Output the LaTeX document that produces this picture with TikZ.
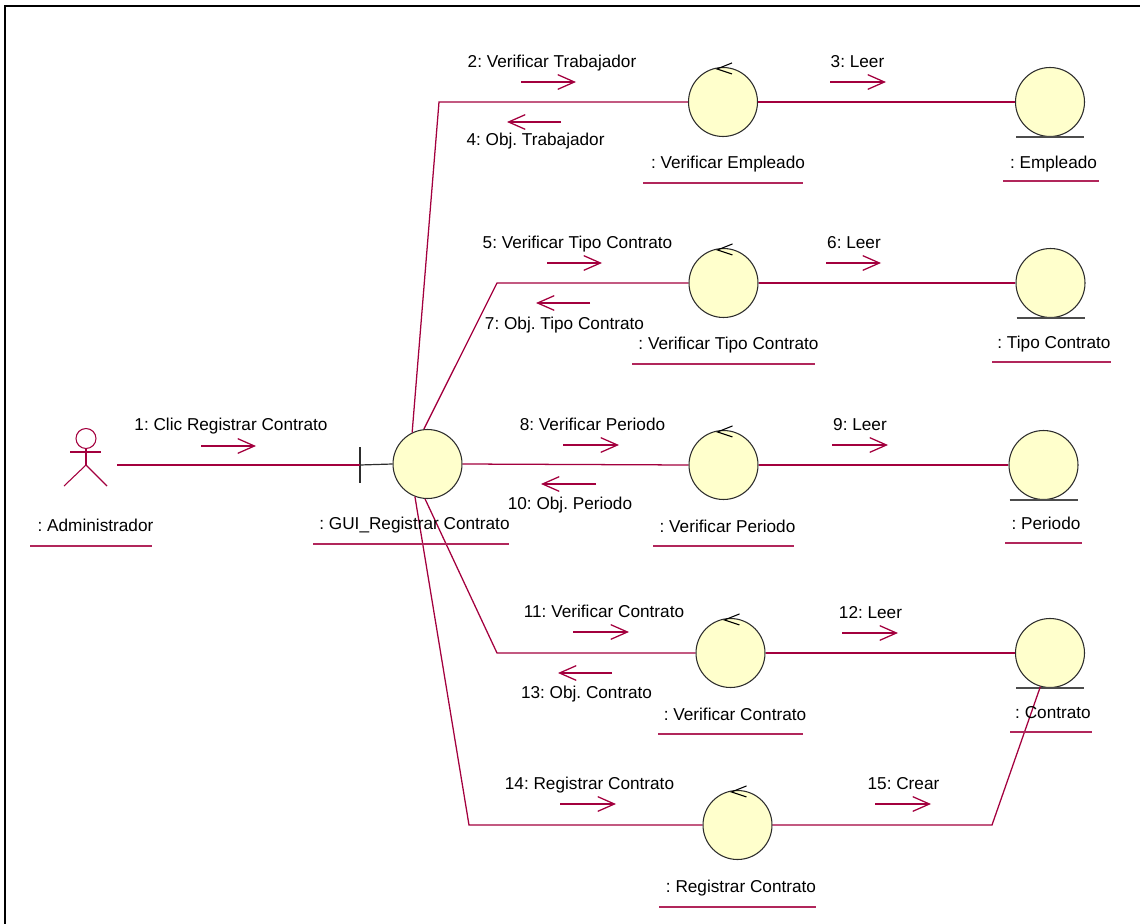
\documentclass[tikz,border=0pt]{standalone}
\usepackage{fontspec}
\setmainfont{Liberation Sans}
\frenchspacing
\usetikzlibrary{arrows.meta}
\definecolor{crim}{RGB}{163,0,62}
\definecolor{ufill}{RGB}{255,255,204}
\definecolor{ostroke}{RGB}{45,45,45}
\begin{document}
\begin{tikzpicture}[x=0.75pt,y=-0.75pt,font=\fontsize{12.9}{15}\selectfont,
  link/.style={draw=crim,line width=0.95pt},
  msg/.style={draw=crim,line width=0.95pt,-{Straight Barb[length=12.5pt,width=11pt]}},
  uline/.style={draw=crim!85,line width=1.1pt},
  obj/.style={circle,draw=ostroke,fill=ufill,line width=0.8pt,minimum size=51.75pt,inner sep=0pt},
  ctrlmark/.style={draw=black,line width=0.8pt},
  entline/.style={draw=gray!60!black,line width=1pt},
  bndline/.style={draw=ostroke,line width=0.9pt},
  actorline/.style={draw=crim,line width=0.8pt},
  lbl/.style={anchor=base,inner sep=0pt}]
\useasboundingbox (0,0) rectangle (1140,924);
% frame
\draw[black,line width=1.7pt] (5,924) -- (5,6) -- (1140,6);

% objects
\node[obj] (gui) at (427.5,464) {};
\node[obj] (c1) at (723,102) {};
\node[obj] (c2) at (723.5,283) {};
\node[obj] (c3) at (723.5,465) {};
\node[obj] (c4) at (730.5,653) {};
\node[obj] (c5) at (737.5,825) {};
\node[obj] (e1) at (1050,102) {};
\node[obj] (e2) at (1050.5,283) {};
\node[obj] (e3) at (1043.5,465) {};
\node[obj] (e4) at (1050,653) {};

% control marks
\foreach \c in {c1,c2,c3,c4,c5}
  \draw[ctrlmark] ([shift={(9,-4)}]\c.north) -- ([shift={(-6,2)}]\c.north) -- ([shift={(9,7)}]\c.north);
% entity marks
\foreach \e in {e1,e2,e3,e4}
  \draw[entline] ([shift={(-34,0)}]\e.south) -- ([shift={(34,0)}]\e.south);

% actor
\draw[actorline] (86,438.5) circle[radius=7.5pt];
\draw[actorline] (86,448.5) -- (86,465);
\draw[actorline] (70,452) -- (101,452);
\draw[actorline] (64,486) -- (86,465) -- (107,486);
\coordinate (adm) at (117,465);

% boundary
\coordinate (bnd) at (360,465);
\draw[bndline] (360,447) -- (360,483);
\draw[bndline] (bnd) -- (gui.west);

% corners
\coordinate (k1) at (439,102);
\coordinate (k2) at (497,283);
\coordinate (k4) at (497,653);
\coordinate (k5) at (469,825);
\coordinate (k6) at (992,825);

% links
\draw[link] (adm) -- (bnd);
\draw[link] (gui.116) -- (k1) -- (c1.west);
\draw[link] (c1.east) -- (e1.west);
\draw[link] (gui.96) -- (k2) -- (c2.west);
\draw[link] (c2.east) -- (e2.west);
\draw[link] (gui.east) -- (c3.west);
\draw[link] (c3.east) -- (e3.west);
\draw[link] (gui.266) -- (k4) -- (c4.west);
\draw[link] (c4.east) -- (e4.west);
\draw[link] (gui.249) -- (k5) -- (c5.west);
\draw[link] (c5.east) -- (k6) -- (e4.254);

% message arrows
\draw[msg] (201,446) -- (256,446);
\draw[msg] (521,82) -- (576,82);
\draw[msg] (561,122) -- (507,122);
\draw[msg] (830,82) -- (886,82);
\draw[msg] (547,263) -- (602,263);
\draw[msg] (590,303) -- (536,303);
\draw[msg] (826,263) -- (881,263);
\draw[msg] (563,445) -- (619,445);
\draw[msg] (596,484) -- (541,484);
\draw[msg] (832,445) -- (888,445);
\draw[msg] (573,632) -- (629,632);
\draw[msg] (612,673) -- (558,673);
\draw[msg] (842,633) -- (898,633);
\draw[msg] (560,804) -- (616,804);
\draw[msg] (875,804) -- (931,804);

% message labels
\node[lbl] (m1) at (231,430) {1: Clic Registrar Contrato};
\node[lbl] (m2) at (552,68) {2: Verificar Trabajador};
\node[lbl] (m4) at (535.5,146) {4: Obj. Trabajador};
\node[lbl] (m3) at (857.5,68) {3: Leer};
\node[lbl] (m5) at (577.5,248) {5: Verificar Tipo Contrato};
\node[lbl] (m7) at (564.5,329) {7: Obj. Tipo Contrato};
\node[lbl] (m6) at (854,248) {6: Leer};
\node[lbl] (m8) at (592.5,430) {8: Verificar Periodo};
\node[lbl] (m10) at (570,509) {10: Obj. Periodo};
\node[lbl] (m9) at (860,430) {9: Leer};
\node[lbl] (m11) at (604,617) {11: Verificar Contrato};
\node[lbl] (m13) at (586.5,698) {13: Obj. Contrato};
\node[lbl] (m12) at (870.5,618) {12: Leer};
\node[lbl] (m14) at (589.5,789) {14: Registrar Contrato};
\node[lbl] (m15) at (903.5,789) {15: Crear};

% object labels
\node[lbl] (ladm) at (95.5,531) {: Administrador};
\node[lbl] (lgui) at (414.5,529) {: GUI\_Registrar Contrato};
\node[lbl] (lc1) at (728,169) {: Verificar Empleado};
\node[lbl] (le1) at (1053.5,168) {: Empleado};
\node[lbl] (lc2) at (728.5,349) {: Verificar Tipo Contrato};
\node[lbl] (le2) at (1054,348) {: Tipo Contrato};
\node[lbl] (lc3) at (727.5,532) {: Verificar Periodo};
\node[lbl] (le3) at (1046,529) {: Periodo};
\node[lbl] (lc4) at (735,720) {: Verificar Contrato};
\node[lbl] (le4) at (1053,718) {: Contrato};
\node[lbl] (lc5) at (741,892) {: Registrar Contrato};

% underlines
\draw[uline] (30,546) -- (152,546);
\draw[uline] (313,544) -- (509,544);
\draw[uline] (643,183) -- (803,183);
\draw[uline] (1003,181) -- (1099,181);
\draw[uline] (632,364) -- (815,364);
\draw[uline] (992,362) -- (1111,362);
\draw[uline] (653,546) -- (794,546);
\draw[uline] (1005,543) -- (1082,543);
\draw[uline] (658,734) -- (803,734);
\draw[uline] (1010,732) -- (1092,732);
\draw[uline] (659,907) -- (816,907);
\end{tikzpicture}
\end{document}
